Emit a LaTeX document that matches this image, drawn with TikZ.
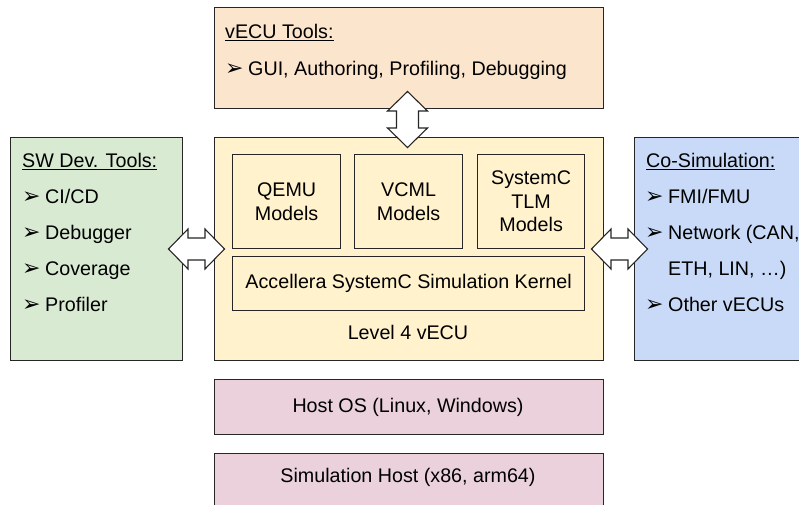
\documentclass[tikz,border=0pt]{standalone}
\usepackage{fontspec}
\setmainfont{Liberation Sans}
\newfontfamily\bulletfont{DejaVu Sans}
\definecolor{cpeach}{HTML}{FCE5CD}
\definecolor{cgreen}{HTML}{D9EAD3}
\definecolor{cyellow}{HTML}{FFF2CC}
\definecolor{cblue}{HTML}{C9DAF8}
\definecolor{cpink}{HTML}{EAD1DC}
\definecolor{cline}{HTML}{262626}
\newcommand{\myul}[1]{\setbox0\hbox{#1}\rlap{\rule[-3.2pt]{\wd0}{1.3pt}}\box0}
\newcommand{\itm}[1]{\makebox[23pt][l]{\raisebox{-0.5pt}{\bulletfont\fontsize{22}{22}\selectfont ➢}}#1}
\begin{document}
\begin{tikzpicture}[x=1pt,y=-1pt,
  box/.style={draw=cline, line width=1.2pt, inner sep=0pt, anchor=north west},
  txt/.style={inner sep=0pt, anchor=base west, font=\fontsize{19.7}{23}\selectfont},
  ctxt/.style={inner sep=0pt, align=center, font=\fontsize{19.7}{23.5}\selectfont},
  arrowline/.style={draw=cline, fill=white, line width=1.1pt, line join=miter},
  dblarrow/.pic={\draw[arrowline] (-28,0) -- (-8.5,-20) -- (-8.5,-11) -- (8.5,-11) -- (8.5,-20) -- (28,0) -- (8.5,20) -- (8.5,11) -- (-8.5,11) -- (-8.5,20) -- cycle;}
]
\clip (0,0) rectangle (799,504);
\fill[white] (0,0) rectangle (799,504);

% main boxes
\node[box, fill=cpeach, minimum width=389pt, minimum height=101pt] (tools) at (213.5,7) {};
\node[box, fill=cgreen, minimum width=172pt, minimum height=223pt] (swdev) at (10,137) {};
\node[box, fill=cyellow, minimum width=389pt, minimum height=223pt] (vecu) at (213.5,137) {};
\node[box, fill=cblue, minimum width=200pt, minimum height=223pt] (cosim) at (634,137) {};
\node[box, fill=cyellow, minimum width=108pt, minimum height=94pt] (qemu) at (232,154) {};
\node[box, fill=cyellow, minimum width=108pt, minimum height=94pt] (vcml) at (354,154) {};
\node[box, fill=cyellow, minimum width=107pt, minimum height=94pt] (sysc) at (477,154) {};
\node[box, fill=cyellow, minimum width=352pt, minimum height=54pt] (kernel) at (232,256) {};
\node[box, fill=cpink, minimum width=389pt, minimum height=55pt] (hostos) at (213.5,379) {};
\node[box, fill=cpink, minimum width=389pt, minimum height=80pt] (simhost) at (213.5,453) {};

% inner texts
\node[ctxt] (qemut) at (qemu.center) {QEMU\\Models};
\node[ctxt] (vcmlt) at (vcml.center) {VCML\\Models};
\node[ctxt] (sysct) at (sysc.center) {SystemC\\TLM\\Models};
\node[ctxt] (kernelt) at (kernel.center) {Accellera SystemC Simulation Kernel};
\node[ctxt] (lvlt) at (408,332) {Level 4 vECU};
\node[ctxt] (hostost) at (408,407) {Host OS (Linux, Windows)};
\node[ctxt] (simhostt) at (408,477) {Simulation Host (x86, arm64)};

% top box texts
\node[txt] (toolsh) at (225,38) {\myul{vECU Tools:}};
\node[txt] (toolsa) at (225,75) {\itm{GUI, Authoring, Profiling, Debugging}};

% left box texts
\node[txt] (swh) at (22,167) {\myul{SW Dev. Tools:}};
\node[txt] (sw1) at (22,203) {\itm{CI/CD}};
\node[txt] (sw2) at (22,239) {\itm{Debugger}};
\node[txt] (sw3) at (22,275) {\itm{Coverage}};
\node[txt] (sw4) at (22,311) {\itm{Profiler}};

% right box texts
\node[txt] (coh) at (646,167) {\myul{Co-Simulation:}};
\node[txt] (co1) at (645,203) {\itm{FMI/FMU}};
\node[txt] (co2) at (645,239) {\itm{Network (CAN,}};
\node[txt] (co3) at (668,275) {ETH, LIN, …)};
\node[txt] (co4) at (645,311) {\itm{Other vECUs}};

% double arrows
\pic at (196.5,249) {dblarrow};
\pic at (619.5,249) {dblarrow};
\pic[rotate=90] at (407.5,119.5) {dblarrow};
\end{tikzpicture}
\end{document}
